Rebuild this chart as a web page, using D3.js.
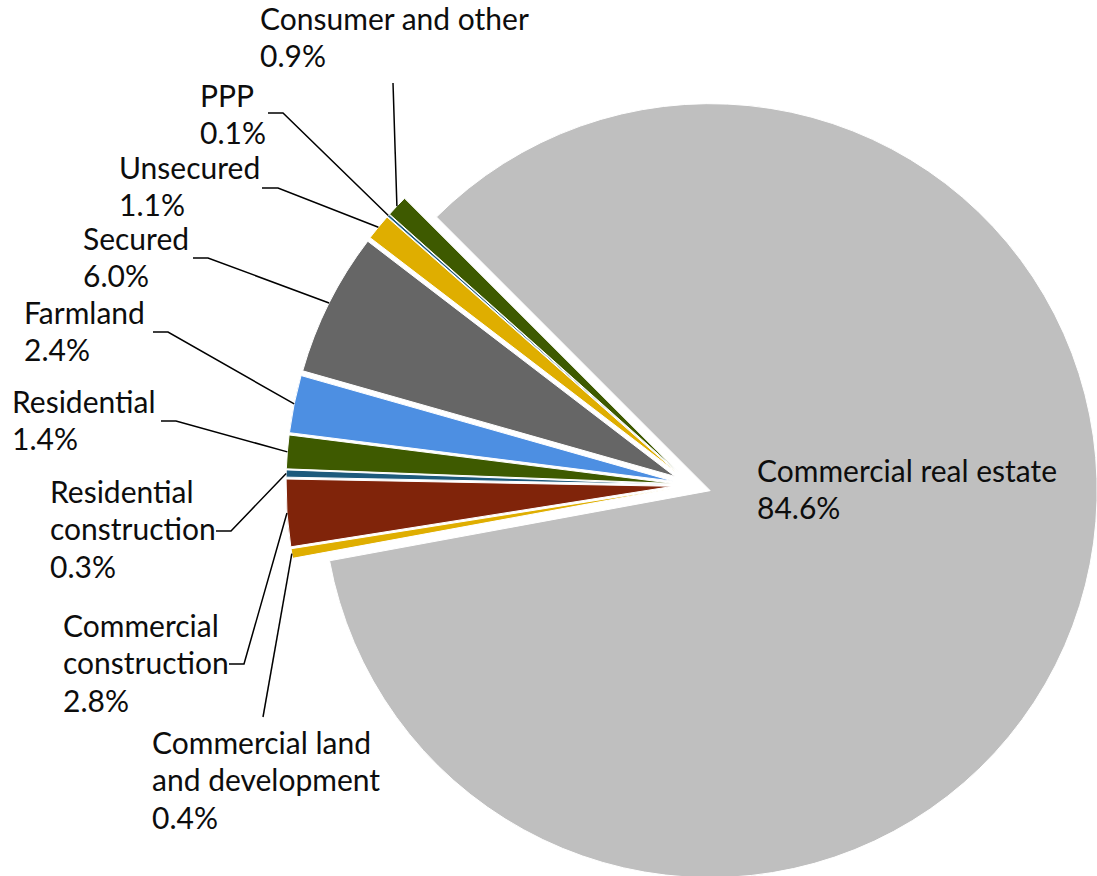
<!DOCTYPE html>
<html>
<head>
<meta charset="utf-8">
<script src="https://cdn.jsdelivr.net/npm/d3@7/dist/d3.min.js"></script>
<style>
    body { margin: 0; background: #fff; }
    svg { display: block; }
    .lbl { font-family: Lato, "Open Sans", sans-serif; font-size: 30px; fill: #0d0d0d; }
</style>
</head>
<body>
<div id="chart"></div>
<script>
const categories = ["Commercial real estate", "Commercial land and development", "Commercial construction",
    "Residential construction", "Residential", "Farmland", "Secured", "Unsecured", "PPP", "Consumer and other"];
const values = [84.6, 0.4, 2.8, 0.3, 1.4, 2.4, 6.0, 1.1, 0.1, 0.9];
const colors = ["#bfbfbf", "#dfae00", "#80240a", "#1d5a7c", "#3e5a00", "#4d8fe2", "#666666", "#dfae00", "#1d5a7c", "#3e5a00"];

// label placement: x, first baseline, words on first line, leader elbow points
const labelLayout = [
    { x: 757, y: 482, wrap: null, leader: null },
    { x: 152, y: 754, wrap: 2, leader: [[263, 717]] },
    { x: 63, y: 637, wrap: 1, leader: [[229, 664], [244, 664]] },
    { x: 50, y: 503, wrap: 1, leader: [[216, 531], [231, 531]] },
    { x: 12, y: 413, wrap: null, leader: [[161, 421], [176, 421]] },
    { x: 24, y: 324, wrap: null, leader: [[153, 332], [168, 332]] },
    { x: 83, y: 250, wrap: null, leader: [[193, 258], [208, 258]] },
    { x: 119, y: 179, wrap: null, leader: [[262, 188], [278, 188]] },
    { x: 200, y: 107, wrap: null, leader: [[268, 113], [283, 113]] },
    { x: 260, y: 30, wrap: null, leader: [[393, 83]] }
];

const w = 1097, h = 876;
const cx = 692, cy = 485, radius = 387, explode = 19, lineH = 37.3;

const svg = d3.select("#chart").append("svg")
    .attr("width", w)
    .attr("height", h);

const pie = d3.pie()
    .sort(null)
    .value(d => d)
    .startAngle(-Math.PI / 4)
    .endAngle(Math.PI * 7 / 4);

const arcs = pie(values);
const arc = d3.arc().innerRadius(0).outerRadius(radius);
const rim = d3.arc().innerRadius(radius).outerRadius(radius);
const shift = d3.arc().innerRadius(explode).outerRadius(explode);

const g = svg.append("g")
    .attr("transform", "translate(" + cx + "," + cy + ")");

g.selectAll("path.slice")
    .data(arcs)
    .join("path")
    .attr("class", "slice")
    .attr("transform", d => "translate(" + shift.centroid(d) + ")")
    .attr("d", arc)
    .attr("fill", (d, i) => colors[i])
    .attr("stroke", "#fff")
    .attr("stroke-width", 1);

// leader lines
g.selectAll("path.leader")
    .data(arcs.filter((d, i) => labelLayout[i].leader))
    .join("path")
    .attr("class", "leader")
    .attr("fill", "none")
    .attr("stroke", "#000")
    .attr("stroke-width", 1.5)
    .attr("d", d => {
        const pts = labelLayout[d.index].leader.map(p => [p[0] - cx, p[1] - cy]);
        const s = shift.centroid(d), r = rim.centroid(d);
        pts.push([s[0] + r[0], s[1] + r[1]]);
        return d3.line()(pts);
    });

function labelLines(i) {
    const name = categories[i];
    const lay = labelLayout[i];
    let lines = [name];
    if (lay.wrap) {
        const words = name.split(" ");
        lines = [words.slice(0, lay.wrap).join(" "), words.slice(lay.wrap).join(" ")];
    }
    lines.push(d3.format(".1f")(values[i]) + "%");
    return lines;
}

const labels = svg.selectAll("text.lbl")
    .data(categories)
    .join("text")
    .attr("class", "lbl")
    .attr("x", (d, i) => labelLayout[i].x)
    .attr("y", (d, i) => labelLayout[i].y);

labels.selectAll("tspan")
    .data((d, i) => labelLines(i).map(t => ({ t: t, x: labelLayout[i].x })))
    .join("tspan")
    .attr("x", d => d.x)
    .attr("dy", (d, j) => j === 0 ? 0 : lineH)
    .text(d => d.t);
</script>
</body>
</html>
